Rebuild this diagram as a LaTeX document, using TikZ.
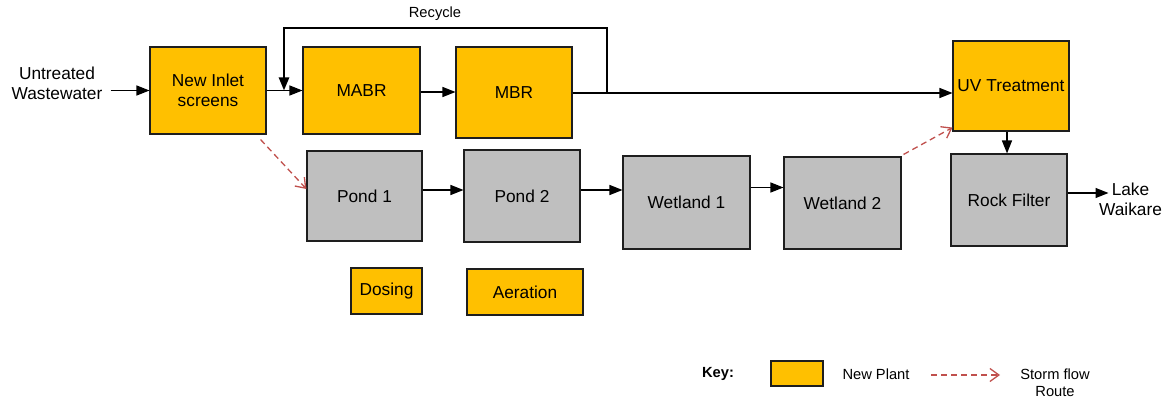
\documentclass[tikz,border=0pt]{standalone}
\usepackage{fontspec}
\setmainfont{Liberation Sans}
\usetikzlibrary{positioning,arrows.meta,calc}
\definecolor{plantGold}{RGB}{255,192,0}
\definecolor{pondGrey}{RGB}{191,191,191}
\definecolor{stormRed}{RGB}{192,80,77}
\definecolor{edgeDark}{RGB}{30,30,30}

\begin{document}
\begin{tikzpicture}[x=1pt,y=-1pt,
      box/.style={draw=edgeDark, line width=1.1pt, minimum width=116pt, minimum height=90pt,
                  inner sep=1pt, align=center, font=\fontsize{17.3}{20}\selectfont},
      newbox/.style={box, fill=plantGold},
      oldbox/.style={box, fill=pondGrey},
      lbl/.style={font=\fontsize{17.3}{20.5}\selectfont, align=center, inner sep=1pt},
      keylbl/.style={font=\fontsize{14.7}{17}\selectfont, align=center, inner sep=1pt},
      flow/.style={-{Triangle[length=13pt,width=10pt]}, line width=1.4pt},
      recyc/.style={-{Triangle[length=13pt,width=10pt]}, line width=2.4pt},
      storm/.style={-{Straight Barb[length=9pt,width=13pt]}, stormRed, line width=1.3pt,
                    dash pattern=on 6pt off 4pt}
    ]
    \useasboundingbox (0,0) rectangle (1167,398);

    \node[lbl] (untr) at (57,83.5) {Untreated\\Wastewater};
    \node[newbox, minimum width=116pt, minimum height=87pt] (inlet) at (208,90.5) {New Inlet\\screens};
    \node[newbox, minimum width=117pt, minimum height=87pt] (mabr) at (361.5,90.5) {MABR};
    \node[newbox, minimum width=116pt, minimum height=91pt] (mbr) at (514,92.5) {MBR};
    \node[newbox, minimum width=116pt, minimum height=90pt] (uv) at (1011,86) {UV Treatment};
    \node[oldbox, minimum width=116pt, minimum height=92pt] (rock) at (1009,200) {Rock Filter};
    \node[lbl] (lake) at (1130.5,199.5) {Lake\\Waikare};
    \coordinate (lakein) at ([xshift=-22pt,yshift=6.5pt]lake.center);

    \node[oldbox, minimum width=115pt, minimum height=90pt] (pond1) at (364.5,196) {Pond 1};
    \node[oldbox, minimum width=116pt, minimum height=92pt] (pond2) at (522,196) {Pond 2};
    \node[oldbox, minimum width=127pt, minimum height=93pt] (wet1) at (686.5,202.5) {Wetland 1};
    \node[oldbox, minimum width=117pt, minimum height=92pt] (wet2) at (842.5,203) {Wetland 2};

    \node[newbox, minimum width=71pt, minimum height=46pt] (dosing) at (386.5,291) {Dosing};
    \node[newbox, minimum width=116pt, minimum height=46pt] (aeration) at (525,292) {Aeration};

    \draw[flow] ([xshift=7pt]untr.east |- inlet.west) -- (inlet.west);
    \draw[flow] (inlet) -- (mabr);
    \draw[flow] ([yshift=-1.5pt]mabr.east) -- ([yshift=-1.5pt]mabr.east -| mbr.west);
    \draw[flow] ([yshift=-0.5pt]mbr.east) -- ([yshift=-0.5pt]mbr.east -| uv.west);
    \coordinate (rcy) at (607,92.5);
    \coordinate (rcyend) at (284,90.5);
    \draw[recyc] (rcy) -- ++(0,-64.5) -| (rcyend);
    \node[keylbl] (rcylbl) at (435,14) {Recycle};
    \draw[flow] (uv.south -| 1007,0) -- (rock.north -| 1007,0);
    \draw[flow] (rock.east |- lakein) -- (lakein);

    \draw[flow] ([yshift=6pt]pond1.east) -- ([yshift=6pt]pond1.east -| pond2.west);
    \draw[flow] ([yshift=6pt]pond2.east) -- ([yshift=6pt]pond2.east -| wet1.west);
    \draw[flow] ([yshift=15pt]wet1.east) -- ([yshift=15pt]wet1.east -| wet2.west);

    \draw[storm] ([xshift=-6pt,yshift=-5pt]inlet.south east) -- ([yshift=7pt]pond1.west);
    \draw[storm] ([xshift=2pt,yshift=2pt]wet2.north east) -- ([yshift=4pt]uv.south west);

    \node[keylbl, font=\fontsize{14.7}{17}\selectfont\bfseries] (keyhd) at (718,374) {Key:};
    \node[draw=edgeDark, line width=1.1pt, fill=plantGold, minimum width=52pt, minimum height=25pt] (keybox) at (797,373.5) {};
    \node[keylbl] (keynew) at (876,374) {New Plant};
    \coordinate (keys) at (931,375);
    \coordinate (keye) at (1000,375);
    \draw[storm] (keys) -- (keye);
    \node[keylbl] (keystorm) at (1055,383) {Storm flow\\Route};
  \end{tikzpicture}
\end{document}
